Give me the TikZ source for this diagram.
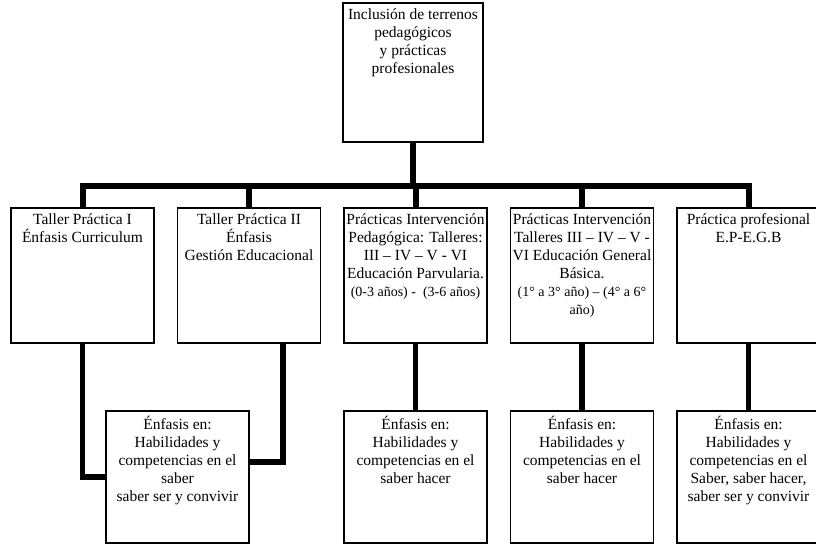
\documentclass[tikz,border=0pt]{standalone}
\usepackage{fontspec}
\setmainfont{Liberation Serif}
\usetikzlibrary{calc}
\begin{document}
\begin{tikzpicture}[x=1pt,y=-1pt,
  stagebox/.style={draw, line width=1.6pt, inner sep=0pt, minimum width=143pt},
  boxtext/.style={anchor=north, align=center, inner sep=0pt, yshift=-6pt,
    font=\fontsize{15.5}{18}\selectfont},
  small/.style={font=\fontsize{14}{18}\selectfont},
  link/.style={line width=6pt, line join=miter}]
\useasboundingbox (0,0) rectangle (816,545);

% root of the chart
\node[stagebox, minimum width=140pt, minimum height=139pt] (root) at (413,72.5) {};
\node[boxtext] (roott) at (root.north) {Inclusión de terrenos\\pedagógicos\\y prácticas\\profesionales};

% first row: workshops and practices
\foreach \n/\x in {b1/82.5, b2/249, b3/415.5, b4/582, b5/748.5}
  \node[stagebox, minimum height=135pt] (\n) at (\x,275.5) {};

\node[boxtext] (b1t) at (b1.north) {Taller Práctica I\\Énfasis Curriculum};
\node[boxtext] (b2t) at (b2.north) {Taller Práctica II\\Énfasis\\Gestión Educacional};
\node[boxtext] (b3t) at (b3.north) {Prácticas Intervención\\Pedagógica: Talleres:\\III – IV – V - VI\\Educación Parvularia.\\{\fontsize{14}{18}\selectfont (0-3 años) -\ \ (3-6 años)}};
\node[boxtext] (b4t) at (b4.north) {Prácticas Intervención\\Talleres III – IV – V -\\VI Educación General\\Básica.\\{\fontsize{14}{18}\selectfont (1° a 3° año) – (4° a 6°}\\{\fontsize{14}{18}\selectfont año)}};
\node[boxtext] (b5t) at (b5.north) {Práctica profesional\\E.P-E.G.B};

% second row: emphasis of each stage
\foreach \n/\x in {c1/177.5, c3/415.5, c4/582, c5/748.5}
  \node[stagebox, minimum height=132pt] (\n) at (\x,477) {};

\node[boxtext] (c1t) at (c1.north) {Énfasis en:\\Habilidades y\\competencias en el\\saber\\saber ser y convivir};
\node[boxtext] (c3t) at (c3.north) {Énfasis en:\\Habilidades y\\competencias en el\\saber hacer};
\node[boxtext] (c4t) at (c4.north) {Énfasis en:\\Habilidades y\\competencias en el\\saber hacer};
\node[boxtext] (c5t) at (c5.north) {Énfasis en:\\Habilidades y\\competencias en el\\Saber, saber hacer,\\saber ser y convivir};

% bus from the root to the first row
\coordinate (bus) at (0,186);
\draw[link] (root.south) -- (root.south |- bus);
\draw[link] (b1.north) -- (b1.north |- bus) -- (b5.north |- bus) -- (b5.north);
\foreach \n in {b2,b3,b4}
  \draw[link] (\n.north) -- (\n.north |- bus);

% links from the first row to the second
\draw[link, line width=5.5pt] (b1.south) |- (c1.west);
\draw[link, line width=5.5pt] ($(b2.south)+(34,0)$) |- ($(c1.east)+(0,-15)$);
\foreach \a/\b in {b3/c3, b4/c4, b5/c5}
  \draw[link, line width=5.5pt] (\a.south) -- (\b.north);
\end{tikzpicture}
\end{document}
